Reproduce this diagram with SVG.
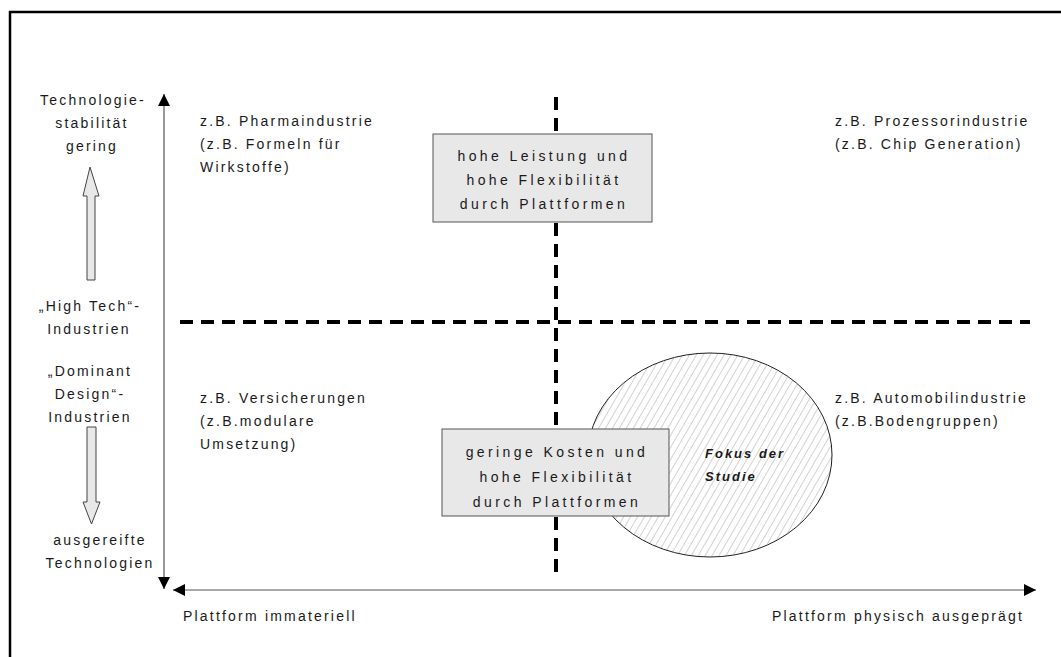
<svg xmlns="http://www.w3.org/2000/svg" width="1061" height="657" viewBox="0 0 1061 657">
  <style>
    text { font-family: "Liberation Sans", Arial, sans-serif; font-size: 14px; fill: #1a1a1a; }
    .sp { letter-spacing: 2.2px; }
    .mid { text-anchor: middle; }
    .box { letter-spacing: 3.4px; text-anchor: middle; }
    .focus { font-weight: bold; font-style: italic; font-size: 13px; letter-spacing: 2px; }
    .panel { fill: #e8e8e8; stroke: #555; stroke-width: 1; }
    .axis { stroke: #555; stroke-width: 1.2; fill: none; }
    .divider { stroke: #000; stroke-width: 4; stroke-dasharray: 13 8; fill: none; }
    .hollow { fill: #e8e8e8; stroke: #444; stroke-width: 1; }
  </style>
  <defs>
    <marker id="tip" viewBox="0 0 10 10" refX="10" refY="5" markerWidth="12" markerHeight="12" markerUnits="userSpaceOnUse" orient="auto">
      <path d="M0,0 L10,5 L0,10 Z" fill="#000"/>
    </marker>
    <pattern id="hatch" width="6" height="6" patternUnits="userSpaceOnUse" patternTransform="rotate(30)">
      <line x1="0" y1="0" x2="0" y2="6" stroke="#d2d2d2" stroke-width="2"/>
    </pattern>
  </defs>

  <rect width="1061" height="657" fill="#fff"/>

  <!-- frame -->
  <path d="M10,657 V12 H1061" fill="none" stroke="#000" stroke-width="2.5"/>

  <!-- axes and quadrant dividers -->
  <g id="connectors">
    <line class="axis" x1="164" y1="300" x2="164" y2="94" marker-end="url(#tip)"/>
    <line class="axis" x1="164" y1="300" x2="164" y2="589" marker-end="url(#tip)"/>
    <line class="axis" x1="600" y1="590" x2="173" y2="590" marker-end="url(#tip)"/>
    <line class="axis" x1="600" y1="590" x2="1036" y2="590" marker-end="url(#tip)"/>
    <line class="divider" x1="180" y1="322" x2="1030" y2="322"/>
    <line class="divider" x1="556" y1="97" x2="556" y2="575"/>
  </g>

  <!-- vertical scale legend -->
  <g id="scale-top">
    <text class="sp mid" x="93" y="105">Technologie-</text>
    <text class="sp mid" x="92" y="128">stabilität</text>
    <text class="sp mid" x="92" y="151">gering</text>
  </g>
  <g id="arrow-up">
    <path class="hollow" d="M90,167 L99,196 L95,196 L95,280 L87,280 L87,196 L83,196 Z"/>
  </g>
  <g id="high-tech">
    <text class="sp mid" x="90" y="311">„High Tech“-</text>
    <text class="sp mid" x="89" y="334">Industrien</text>
  </g>
  <g id="dominant-design">
    <text class="sp mid" x="90" y="376">„Dominant</text>
    <text class="sp mid" x="90" y="399">Design“-</text>
    <text class="sp mid" x="90" y="422">Industrien</text>
  </g>
  <g id="arrow-down">
    <path class="hollow" d="M87,427 L96,427 L96,502 L100,502 L91.5,524 L83,502 L87,502 Z"/>
  </g>
  <g id="scale-bottom">
    <text class="sp mid" x="100" y="545">ausgereifte</text>
    <text class="sp mid" x="100" y="568">Technologien</text>
  </g>

  <!-- quadrant examples -->
  <g id="q-pharma">
    <text class="sp" x="200" y="126">z.B. Pharmaindustrie</text>
    <text class="sp" x="200" y="149">(z.B. Formeln für</text>
    <text class="sp" x="200" y="172">Wirkstoffe)</text>
  </g>
  <g id="q-processor">
    <text class="sp" x="835" y="126">z.B. Prozessorindustrie</text>
    <text class="sp" x="835" y="149">(z.B. Chip Generation)</text>
  </g>
  <g id="q-insurance">
    <text class="sp" x="200" y="403">z.B. Versicherungen</text>
    <text class="sp" x="200" y="426">(z.B.modulare</text>
    <text class="sp" x="200" y="449">Umsetzung)</text>
  </g>
  <g id="q-automotive">
    <text class="sp" x="835" y="403">z.B. Automobilindustrie</text>
    <text class="sp" x="835" y="426">(z.B.Bodengruppen)</text>
  </g>

  <!-- study focus -->
  <g id="focus">
    <ellipse cx="710" cy="455" rx="122" ry="102" fill="#fff"/>
    <ellipse cx="710" cy="455" rx="122" ry="102" fill="url(#hatch)" stroke="#222" stroke-width="1"/>
    <text class="focus" x="705" y="458">Fokus der</text>
    <text class="focus" x="705" y="481">Studie</text>
  </g>

  <!-- strategy boxes -->
  <g id="box-performance">
    <rect class="panel" x="433" y="134" width="219" height="88"/>
    <text class="box" x="544" y="161">hohe Leistung und</text>
    <text class="box" x="544" y="185">hohe Flexibilität</text>
    <text class="box" x="544" y="209">durch Plattformen</text>
  </g>
  <g id="box-cost">
    <rect class="panel" x="442" y="429" width="227" height="87"/>
    <text class="box" x="557" y="457">geringe Kosten und</text>
    <text class="box" x="557" y="482">hohe Flexibilität</text>
    <text class="box" x="557" y="507">durch Plattformen</text>
  </g>

  <!-- horizontal scale legend -->
  <g id="scale-left">
    <text class="sp" x="183" y="621">Plattform immateriell</text>
  </g>
  <g id="scale-right">
    <text class="sp" x="772" y="621">Plattform physisch ausgeprägt</text>
  </g>
</svg>
